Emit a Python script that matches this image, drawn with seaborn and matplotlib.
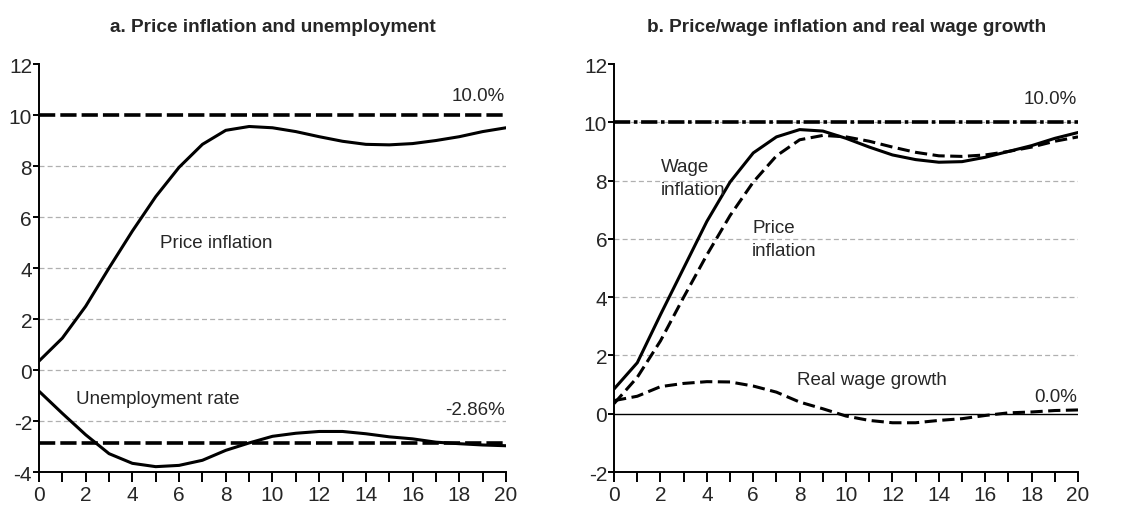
import numpy as np
import pandas as pd
import seaborn as sns
import matplotlib.pyplot as plt

sns.set_style("ticks")
plt.rcParams['font.family'] = ['Liberation Sans', 'DejaVu Sans']
plt.rcParams['axes.unicode_minus'] = False

quarters = list(range(21))
price_infl = [0.35, 1.25, 2.5, 4.0, 5.45, 6.8, 7.95, 8.85, 9.4, 9.55, 9.5, 9.35,
              9.15, 8.97, 8.85, 8.83, 8.88, 9.0, 9.15, 9.35, 9.5]
unemp = [-0.83, -1.7, -2.54, -3.28, -3.66, -3.79, -3.74, -3.54, -3.15, -2.86, -2.6, -2.48,
         -2.41, -2.41, -2.5, -2.62, -2.7, -2.83, -2.89, -2.94, -2.97]
wage_infl = [0.85, 1.75, 3.4, 5.0, 6.6, 7.95, 8.95, 9.5, 9.75, 9.7, 9.45, 9.15,
             8.88, 8.72, 8.63, 8.65, 8.8, 9.0, 9.2, 9.45, 9.65]
real_wage = [0.45, 0.6, 0.93, 1.04, 1.1, 1.09, 0.95, 0.74, 0.4, 0.17, -0.08, -0.23,
             -0.31, -0.31, -0.23, -0.17, -0.06, 0.03, 0.06, 0.11, 0.13]
target_infl = 10.0
nairu_gap = -2.86

df = pd.DataFrame({"q": quarters, "price": price_infl, "unemp": unemp,
                   "wage": wage_infl, "real": real_wage})

fig = plt.figure(figsize=(11.33, 5.06), dpi=100)
ax1 = fig.add_axes([0.0344, 0.0652, 0.4122, 0.8063])
ax2 = fig.add_axes([0.542, 0.0652, 0.4095, 0.8063])

grid_kw = dict(color="#b0b0b0", lw=0.9, ls=(0, (4, 2.5)), zorder=0)
fs = 13.5

def style_axis(ax, ymin):
    ax.set_xlim(0, 20)
    ax.set_ylim(ymin, 12)
    sns.despine(ax=ax)
    for s in ["left", "bottom"]:
        ax.spines[s].set_linewidth(1.4)
        ax.spines[s].set_color("black")
    ax.set_xticks(quarters)
    ax.set_xticklabels([str(q) if q % 2 == 0 else "" for q in quarters])
    ax.set_yticks(range(ymin, 13, 2))
    ax.tick_params(axis="both", labelsize=15, width=1.4, color="black")
    ax.tick_params(axis="x", length=7, pad=2)
    ax.tick_params(axis="y", length=4, pad=1)
    ax.set_xlabel("")
    ax.set_ylabel("")

# panel a
for g in [8, 6, 4, 2, 0, -2]:
    ax1.axhline(g, **grid_kw)
sns.lineplot(data=df, x="q", y="price", ax=ax1, color="black", lw=2.2)
sns.lineplot(data=df, x="q", y="unemp", ax=ax1, color="black", lw=2.2)
ax1.axhline(target_infl, color="black", lw=2.6, ls=(0, (4.5, 1.4)))
ax1.axhline(nairu_gap, color="black", lw=2.6, ls=(0, (4.5, 1.4)))
style_axis(ax1, -4)
ax1.set_title("a. Price inflation and unemployment", fontsize=13.7, fontweight="bold", pad=24)
ax1.text(19.95, 10.75, "10.0%", ha="right", va="center", fontsize=fs)
ax1.text(19.95, -1.55, "-2.86%", ha="right", va="center", fontsize=fs)
ax1.text(5.2, 5.0, "Price inflation", ha="left", va="center", fontsize=fs)
ax1.text(1.6, -1.1, "Unemployment rate", ha="left", va="center", fontsize=fs)

# panel b
for g in [10, 8, 6, 4, 2]:
    ax2.axhline(g, **grid_kw)
ax2.axhline(0, color="black", lw=1.0, zorder=1)
sns.lineplot(data=df, x="q", y="wage", ax=ax2, color="black", lw=2.2)
sns.lineplot(data=df, x="q", y="price", ax=ax2, color="black", lw=2.2, ls=(0, (4, 1.8)))
sns.lineplot(data=df, x="q", y="real", ax=ax2, color="black", lw=2.2, ls=(0, (4, 1.8)))
ax2.axhline(target_infl, color="black", lw=2.6, ls=(0, (4.5, 1.0, 1.0, 1.0)))
style_axis(ax2, -2)
ax2.set_title("b. Price/wage inflation and real wage growth", fontsize=13.7, fontweight="bold", pad=24)
ax2.text(19.95, 10.8, "10.0%", ha="right", va="center", fontsize=fs)
ax2.text(19.95, 0.6, "0.0%", ha="right", va="center", fontsize=fs)
ax2.text(2.0, 8.5, "Wage", ha="left", va="center", fontsize=fs)
ax2.text(2.0, 7.7, "inflation", ha="left", va="center", fontsize=fs)
ax2.text(5.95, 6.4, "Price", ha="left", va="center", fontsize=fs)
ax2.text(5.95, 5.6, "inflation", ha="left", va="center", fontsize=fs)
ax2.text(7.9, 1.17, "Real wage growth", ha="left", va="center", fontsize=fs)

fig.savefig("out.png", dpi=100)
